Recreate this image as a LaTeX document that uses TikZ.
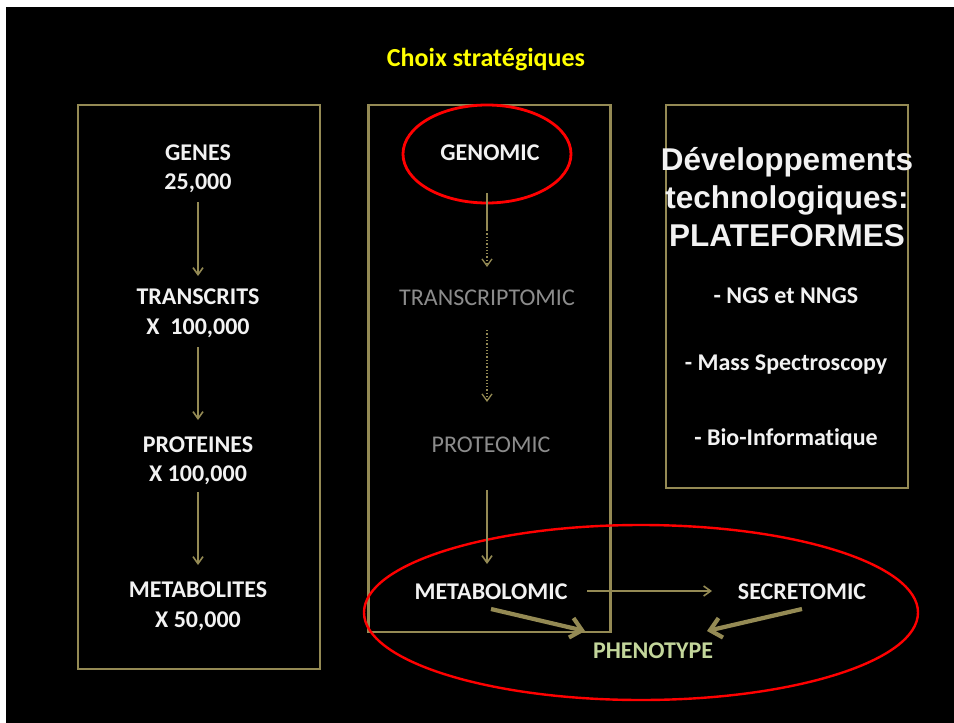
\documentclass[tikz,border=0pt]{standalone}
\usepackage{fontspec}
\setmainfont{Carlito}[Ligatures=NoCommon]
\newfontfamily\arialf{Liberation Sans}
\usetikzlibrary{arrows.meta}
\definecolor{boxcol}{HTML}{948A54}
\definecolor{txtw}{HTML}{F2F2F2}
\definecolor{ghost}{HTML}{8C8C8C}
\definecolor{phenocol}{HTML}{C3D69B}
\definecolor{titlecol}{HTML}{FFFF00}
\definecolor{ringcol}{HTML}{FF0000}
\tikzset{
  lbl/.style={anchor=base, text=txtw, align=center, inner sep=0pt,
    font=\bfseries\fontsize{24}{29.5}\selectfont},
  ghostlbl/.style={anchor=base, text=ghost, inner sep=0pt,
    font=\fontsize{24}{29}\selectfont},
  frame/.style={draw=boxcol, line width=2.6pt, inner sep=0pt},
  flow/.style={draw=boxcol, line width=1.6pt, -{Straight Barb[length=7pt,width=10pt,line width=1.6pt]}},
  dflow/.style={draw=boxcol, line width=1.3pt, dotted, -{Straight Barb[length=7pt,width=10pt,line width=1.3pt]}},
  bigflow/.style={draw=boxcol, line width=4.2pt, -{Straight Barb[length=11pt,width=20pt,line width=4.2pt]}},
  ring/.style={draw=ringcol, line width=2.8pt}
}
\begin{document}
\begin{tikzpicture}[x=1pt,y=-1pt]
\useasboundingbox (0,0) rectangle (954,723);
\fill[white] (0,0) rectangle (954,723);
\fill[black] (6,7) rectangle (954,723);

% frames
\node[frame, minimum width=242pt, minimum height=564pt] (leftbox) at (199,387) {};
\node[frame, minimum width=242pt, minimum height=527pt] (midbox) at (489.5,368.5) {};
\node[frame, minimum width=242pt, minimum height=383pt] (rightbox) at (787,296.5) {};

% title
\node[anchor=base, text=titlecol, inner sep=0pt, font=\bfseries\fontsize{26}{30}\selectfont] (title) at (486,66) {Choix stratégiques};

% left column (base = baseline of last line)
\node[lbl] (genes) at (198,189.5) {GENES\\25,000};
\node[lbl] (transcrits) at (198,334) {TRANSCRITS\\X\ \ 100,000};
\node[lbl] (proteines) at (198,481.5) {PROTEINES\\X 100,000};
\node[lbl] (metabolites) at (198,627) {METABOLITES\\X 50,000};
\coordinate (l1a) at (198,202); \coordinate (l1b) at (198,276);
\coordinate (l2a) at (198,347); \coordinate (l2b) at (198,420);
\coordinate (l3a) at (198,492); \coordinate (l3b) at (198,565);
\draw[flow] (l1a) -- (l1b);
\draw[flow] (l2a) -- (l2b);
\draw[flow] (l3a) -- (l3b);

% middle column
\node[lbl] (genomic) at (490,160) {GENOMIC};
\node[ghostlbl] (transcriptomic) at (487,305) {TRANSCRIPTOMIC};
\node[ghostlbl] (proteomic) at (491,452) {PROTEOMIC};
\node[lbl] (metabolomic) at (491,599) {METABOLOMIC};
\node[lbl] (secretomic) at (802,599) {SECRETOMIC};
\node[anchor=base, text=phenocol, inner sep=0pt, font=\bfseries\fontsize{24}{29}\selectfont] (phenotype) at (653,658) {PHENOTYPE};

\draw[ring] (487,154) ellipse [x radius=84, y radius=49];
\draw[ring, line width=2.4pt] (641,612.5) ellipse [x radius=277, y radius=87.5];

\coordinate (m1a) at (487,193); \coordinate (m1m) at (487,230); \coordinate (m1b) at (487,267);
\coordinate (m2a) at (487,330); \coordinate (m2b) at (487,402);
\coordinate (m3a) at (487,490); \coordinate (m3b) at (487,564);
\draw[draw=boxcol, line width=1.6pt] (m1a) -- (m1m);
\draw[dflow] (m1m) -- (m1b);
\draw[dflow] (m2a) -- (m2b);
\draw[flow] (m3a) -- (m3b);

\coordinate (h1) at (587,591); \coordinate (h2) at (712,591);
\draw[flow, line width=2.2pt] (h1) -- (h2);
\coordinate (t1) at (491,609); \coordinate (t2) at (585,631);
\coordinate (t3) at (802,609); \coordinate (t4) at (707,631);
\draw[bigflow] (t1) -- (t2);
\draw[bigflow] (t3) -- (t4);

% right box texts
\node[anchor=base, text=txtw, align=center, inner sep=0pt, font=\arialf\bfseries\fontsize{31.5}{38}\selectfont] (devtech) at (787,246) {Développements\\technologiques:\\PLATEFORMES};
\node[lbl] (ngs) at (786,303) {- NGS et NNGS};
\node[lbl] (mass) at (786,370) {- Mass Spectroscopy};
\node[lbl] (bio) at (786,445) {- Bio-Informatique};
\end{tikzpicture}
\end{document}
